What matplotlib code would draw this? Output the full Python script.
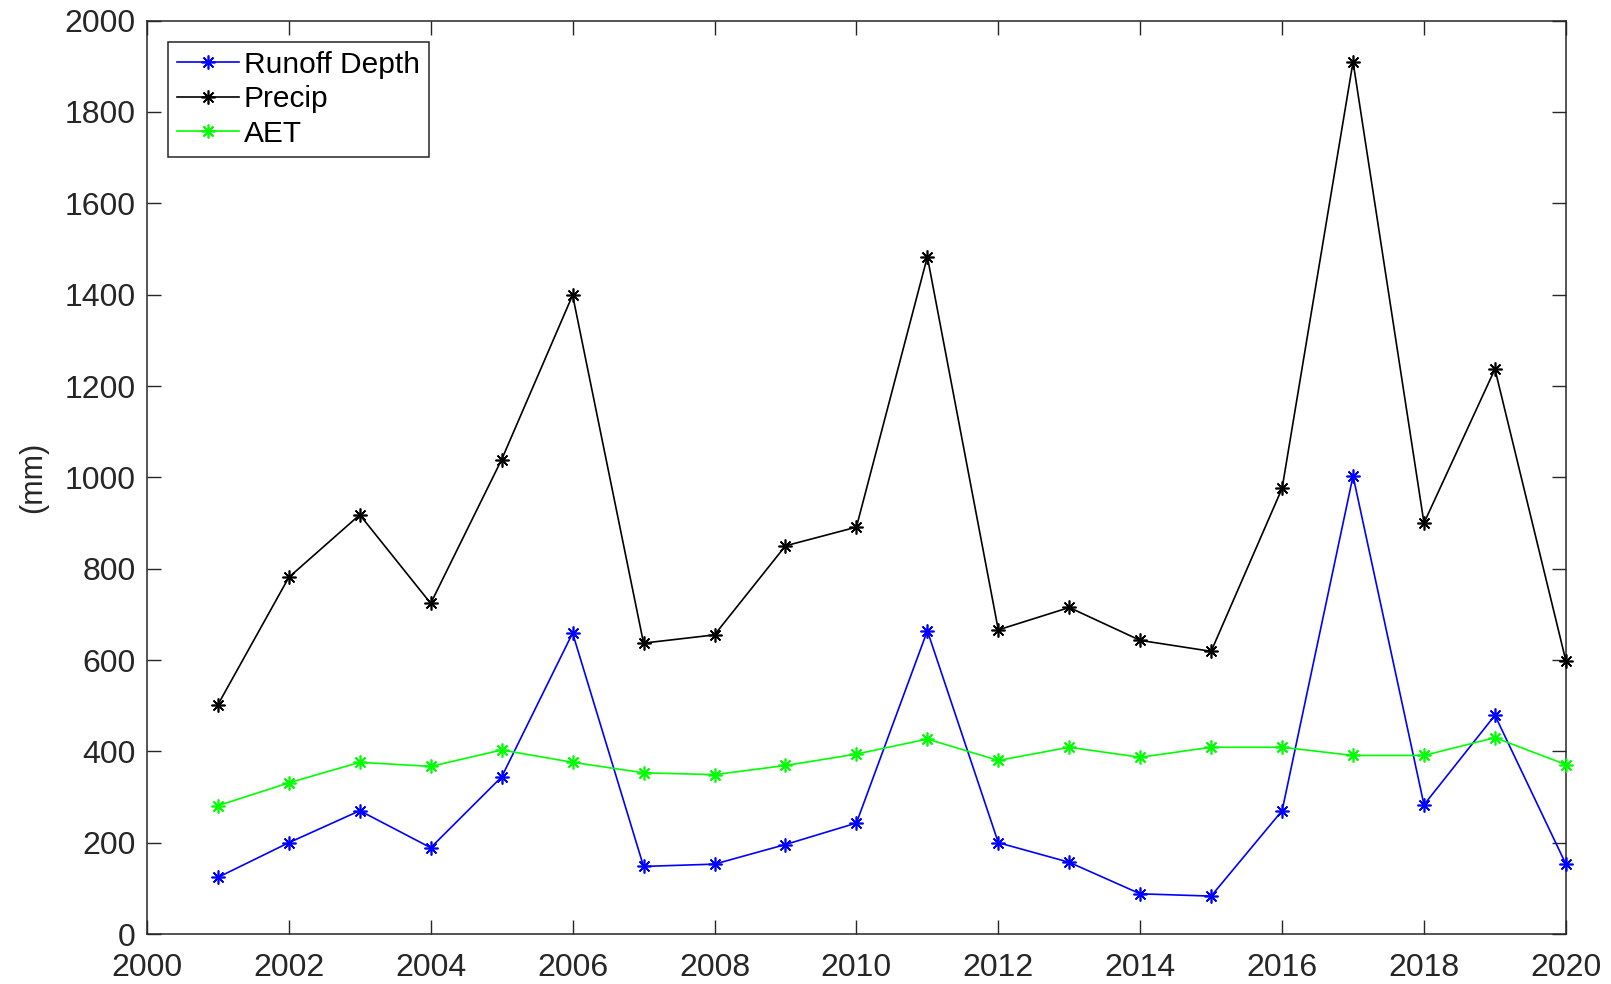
import matplotlib.pyplot as plt

plt.rcParams['font.family'] = ['Liberation Sans', 'DejaVu Sans']

# Annual water balance terms (mm)
years = list(range(2001, 2021))
runoff = [124, 200, 270, 189, 344, 659, 148, 153, 196, 243,
          664, 200, 157, 88, 83, 270, 1003, 283, 479, 153]
precip = [502, 781, 918, 724, 1039, 1399, 637, 655, 850, 891,
          1483, 666, 715, 643, 619, 976, 1910, 900, 1237, 598]
aet = [281, 331, 376, 367, 403, 376, 353, 349, 369, 394,
       427, 380, 409, 387, 409, 409, 391, 391, 430, 371]

fig = plt.figure(figsize=(16.11, 9.84), dpi=100)
ax = fig.add_axes([0.0912, 0.0508, 0.8808, 0.9282])

star = (8, 2, 0)
style = dict(marker=star, ms=10, mew=1.2, lw=1.2, clip_on=False)
ax.plot(years, runoff, color='#0000ff', label='Runoff Depth', **style)
ax.plot(years, precip, color='black', label='Precip', **style)
ax.plot(years, aet, color='#00ff00', label='AET', **style)

ax.set_xlim(2000, 2020)
ax.set_ylim(0, 2000)
ax.set_xticks(range(2000, 2021, 2))
ax.set_yticks(range(0, 2001, 200))
ax.set_ylabel('(mm)', fontsize=22, color='#262626', labelpad=12)

ax.tick_params(direction='in', length=10, width=1, top=True, right=True,
               labelsize=23, colors='#262626', pad=8)
ax.tick_params(axis='x', pad=14)
for s in ax.spines.values():
    s.set_color('#262626')
    s.set_linewidth(1.1)
    s.set_zorder(1)

leg = ax.legend(loc='upper left', fontsize=21.5, fancybox=False, framealpha=1,
                edgecolor='#262626', handlelength=2.1, borderpad=0.3,
                labelspacing=0.22, handletextpad=0.15, borderaxespad=0.7)
leg.get_frame().set_linewidth(1.1)

fig.savefig('out.png', dpi=100)
